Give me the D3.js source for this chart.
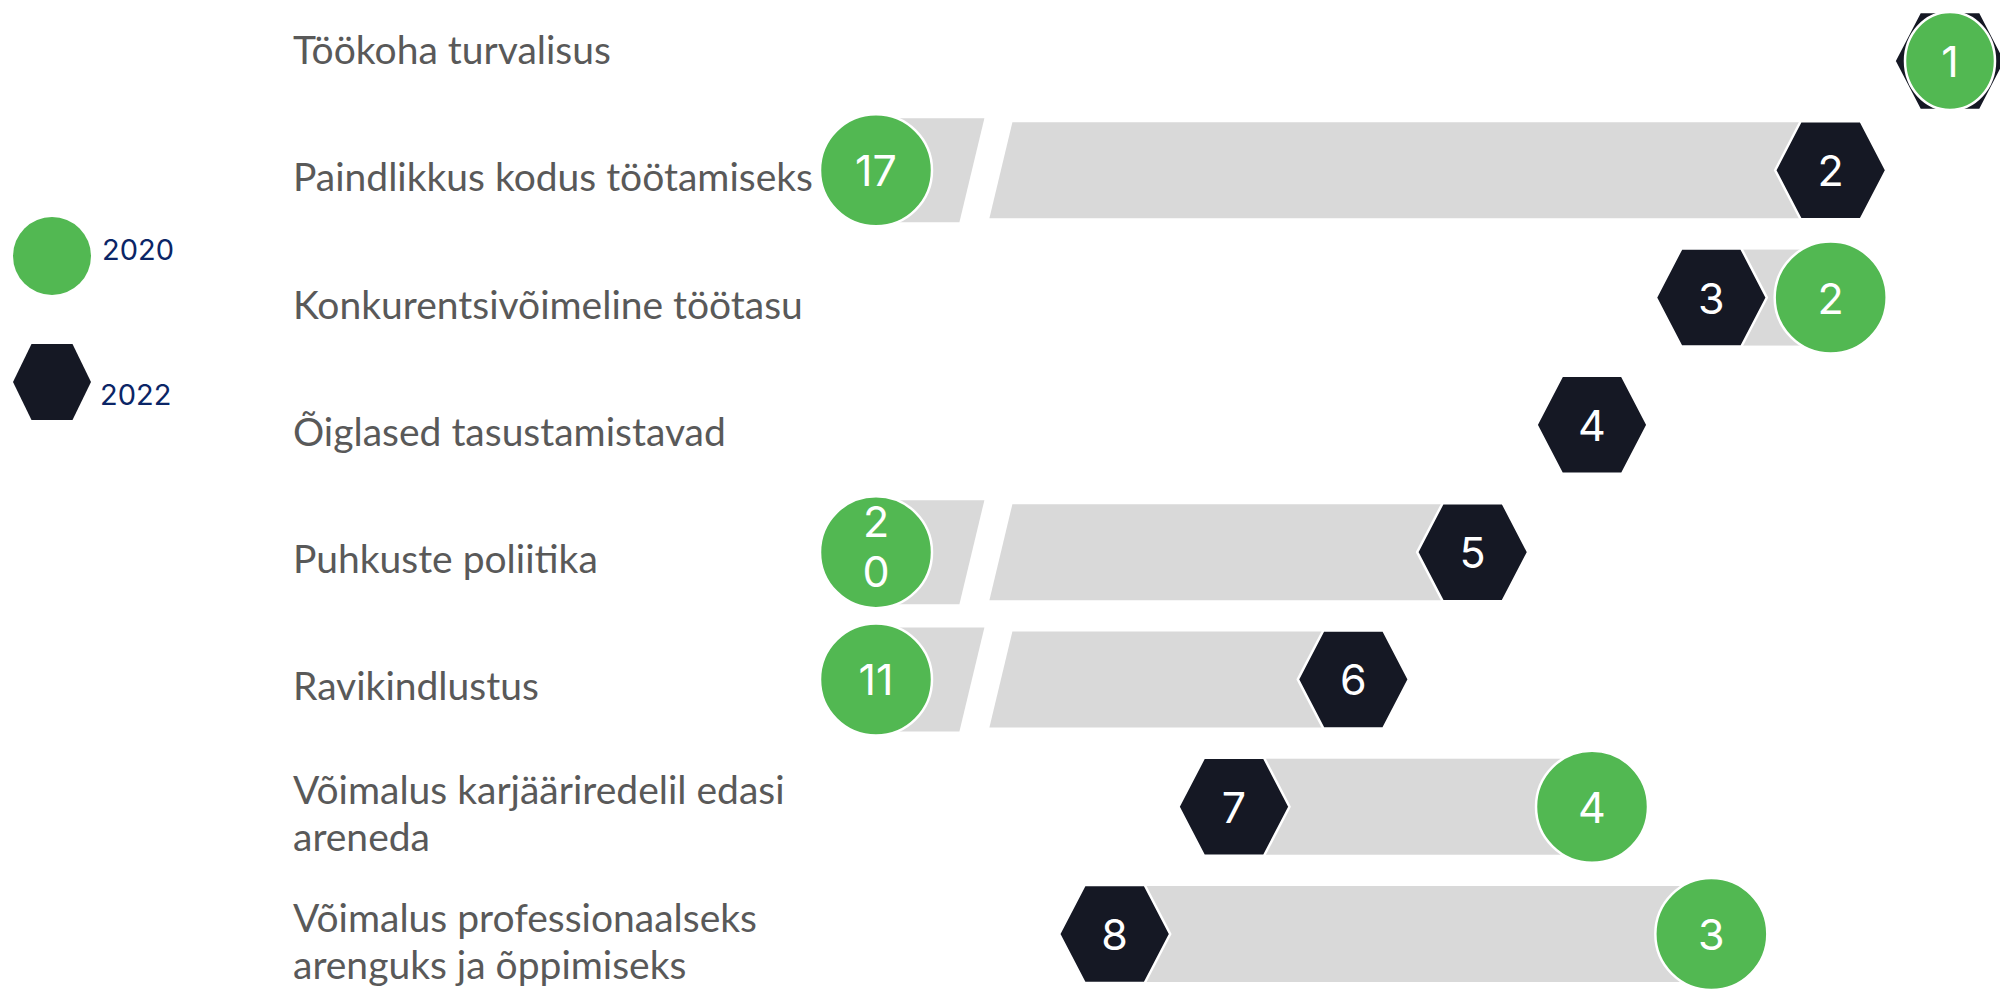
<!DOCTYPE html>
<html>
<head>
<meta charset="utf-8">
<script src="https://cdn.jsdelivr.net/npm/d3@7"></script>
<style>
  html, body { margin: 0; padding: 0; background: #ffffff; }
  svg { display: block; }
</style>
</head>
<body>
<svg id="chart" width="2000" height="993"></svg>
<script>
// ---- data ----
const categories = [
  "Töökoha turvalisus",
  "Paindlikkus kodus töötamiseks",
  "Konkurentsivõimeline töötasu",
  "Õiglased tasustamistavad",
  "Puhkuste poliitika",
  "Ravikindlustus",
  "Võimalus karjääriredelil edasi areneda",
  "Võimalus professionaalseks arenguks ja õppimiseks"
];
const rank2020 = [1, 17, 2, null, 20, 11, 4, 3];
const rank2022 = [1, 2, 3, 4, 5, 6, 7, 8];
const seriesNames = ["2020", "2022"];
const visibleRanks = [1, 10];   // ranks beyond are drawn at the axis break
const breakRank = 9.1;

// ---- styles ----
const GREEN = "#52b852", DARK = "#151824", GREY = "#d9d9d9";
const labelFont = "Lato, 'Open Sans', sans-serif";
const numFont = "Inter, 'Noto Sans', sans-serif";
const NUM_SIZE = 43;

const svg = d3.select("#chart");

const x = d3.scaleLinear().domain(visibleRanks).range([1950, 876]).clamp(true);
const y = d3.scalePoint().domain(categories).range([43, 934]);

const rows = categories.map((c, i) => ({ cat: c, r20: rank2020[i], r22: rank2022[i] }));
const markerY = d => Math.max(y(d.cat), 61);

// ---- bars ----
const gBars = svg.append("g");
rows.forEach(d => {
  if (d.r20 == null || d.r22 == null || d.r20 === d.r22) return;
  const cy = markerY(d);
  const hi = Math.max(d.r20, d.r22), lo = Math.min(d.r20, d.r22);
  const left = x(hi), right = x(lo);
  if (hi > visibleRanks[1]) {
    const b = x(breakRank);
    gBars.append("polygon").attr("fill", GREY)
      .attr("points", [[left, cy - 52], [b + 1, cy - 52], [b - 24, cy + 52], [left, cy + 52]].join(" "));
    gBars.append("polygon").attr("fill", GREY)
      .attr("points", [[b + 29, cy - 48], [right, cy - 48], [right, cy + 48], [b + 6, cy + 48]].join(" "));
  } else {
    gBars.append("rect").attr("fill", GREY)
      .attr("x", left).attr("y", cy - 48).attr("width", right - left).attr("height", 96);
  }
});

// ---- markers ----
function hexPoints(w, h, t) {
  return [[-w, 0], [-t, -h], [t, -h], [w, 0], [t, h], [-t, h]].join(" ");
}
const HEX = hexPoints(55.5, 49, 30);
const R = 56;

function numLabel(g, val) {
  const t = g.append("text")
    .attr("text-anchor", "middle")
    .attr("dominant-baseline", "central")
    .attr("fill", "#ffffff")
    .style("font-family", numFont)
    .style("font-size", NUM_SIZE + "px")
    .text(val);
  if (t.node().getComputedTextLength() > NUM_SIZE * 1.16) {
    const chars = String(val).split("");
    t.text(null);
    const lh = 50;
    chars.forEach((ch, k) => {
      t.append("tspan").attr("x", 0)
        .attr("y", (k - (chars.length - 1) / 2) * lh - 6)
        .text(ch);
    });
  }
}

const g22 = svg.append("g");
rows.forEach(d => {
  if (d.r22 == null) return;
  const g = g22.append("g").attr("transform", `translate(${x(d.r22)},${markerY(d)})`);
  g.append("polygon").attr("points", HEX).attr("fill", DARK)
    .attr("stroke", "#ffffff").attr("stroke-width", 2.5);
  numLabel(g, d.r22);
});

const g20 = svg.append("g");
rows.forEach(d => {
  if (d.r20 == null) return;
  const same = d.r20 === d.r22;   // shrink so the hexagon behind stays visible
  const g = g20.append("g").attr("transform", `translate(${x(d.r20)},${markerY(d)})`);
  g.append("ellipse").attr("rx", same ? 45 : R).attr("ry", same ? 49 : R).attr("fill", GREEN)
    .attr("stroke", "#ffffff").attr("stroke-width", 2.5);
  numLabel(g, d.r20);
});

// ---- category labels ----
const maxLabelW = 560, lineH = 47;
const gLab = svg.append("g");
rows.forEach(d => {
  const t = gLab.append("text")
    .attr("x", 293)
    .attr("fill", "#595959")
    .style("font-family", labelFont)
    .style("font-size", "39px");
  const words = d.cat.split(" ");
  const lines = [];
  let cur = [];
  words.forEach(w => {
    cur.push(w);
    t.text(cur.join(" "));
    if (t.node().getComputedTextLength() > maxLabelW && cur.length > 1) {
      cur.pop();
      lines.push(cur.join(" "));
      cur = [w];
    }
  });
  lines.push(cur.join(" "));
  t.text(null);
  const cy = y(d.cat) + 6;
  lines.forEach((ln, k) => {
    t.append("tspan").attr("x", 293)
      .attr("y", cy + (k - (lines.length - 1) / 2) * lineH)
      .attr("dominant-baseline", "central")
      .text(ln);
  });
});

// ---- legend ----
const gLeg = svg.append("g");
gLeg.append("circle").attr("cx", 52).attr("cy", 256).attr("r", 39).attr("fill", GREEN);
gLeg.append("polygon").attr("transform", "translate(52,382)")
  .attr("points", hexPoints(39, 38, 20.5)).attr("fill", DARK);
gLeg.append("text").attr("x", 102).attr("y", 260)
  .attr("fill", "#0b2566").style("font-family", numFont).style("font-size", "29px")
  .text(seriesNames[0]);
gLeg.append("text").attr("x", 100).attr("y", 405)
  .attr("fill", "#0b2566").style("font-family", numFont).style("font-size", "29px")
  .text(seriesNames[1]);
</script>
</body>
</html>
